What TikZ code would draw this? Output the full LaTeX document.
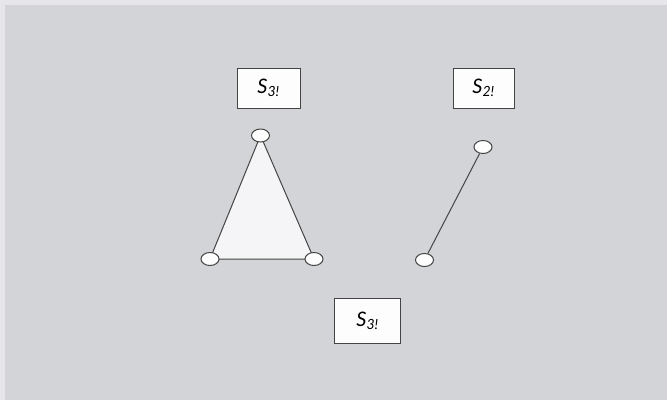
\documentclass[tikz,border=0pt]{standalone}
\usepackage{fontspec}
\setmainfont{Lato}
\usepackage{xcolor}
\usepackage{tikz}
\usetikzlibrary{positioning, shapes.geometric}
\definecolor{paper}{HTML}{D3D4D8}
\definecolor{margin}{HTML}{E6E6EA}
\definecolor{inkgrey}{HTML}{444444}
\definecolor{facefill}{HTML}{F5F5F7}

\begin{document}
\begin{tikzpicture}[
    x=1pt, y=-1pt,
    label box/.style={rectangle, draw=inkgrey, line width=1pt, fill=white!96!paper,
        minimum width=63pt, minimum height=40pt, inner sep=0pt,
        font=\fontsize{20}{23}\selectfont\itshape},
    vertex/.style={ellipse, draw=inkgrey, line width=1pt, fill=white!97!paper,
        minimum width=18pt, minimum height=13pt, inner sep=0pt},
    edge line/.style={draw=inkgrey, line width=1pt},
]

% background
\fill[margin] (0,0) rectangle (667,400);
\fill[paper] (5,5) rectangle (667,400);
\useasboundingbox (0,0) rectangle (667,400);

% labels
\node[label box] (boxa) at (268.5,88) {S\textsubscript{3!}};
\node[label box, minimum width=61pt] (boxb) at (483.5,88) {S\textsubscript{2!}};
\node[label box, minimum width=66pt, minimum height=45pt] (boxc) at (367.5,320.5) {S\textsubscript{3!}};

% triangle
\coordinate (ta) at (260.5,135.5);
\coordinate (tb) at (210,259);
\coordinate (tc) at (314,259);
\filldraw[edge line, fill=facefill, line join=round] (ta) -- (tb) -- (tc) -- cycle;
\node[vertex] (va) at (ta) {};
\node[vertex] (vb) at (tb) {};
\node[vertex] (vc) at (tc) {};

% edge
\node[vertex] (vd) at (483,147) {};
\node[vertex] (ve) at (424.5,260) {};
\draw[edge line] (vd) -- (ve);

\end{tikzpicture}
\end{document}
